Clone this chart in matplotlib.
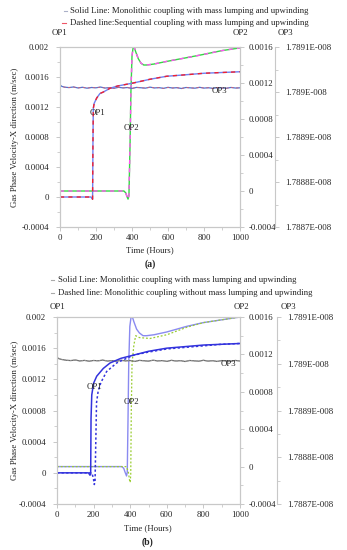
import matplotlib
matplotlib.use("Agg")
import matplotlib.pyplot as plt
from matplotlib.lines import Line2D

plt.rcParams['font.family'] = ['Liberation Serif', 'DejaVu Serif']

W, H = 347, 550

# ---------------- data ----------------
left_ticks = [-0.0004, 0, 0.0004, 0.0008, 0.0012, 0.0016, 0.002]
left_labels = ["-0.0004", "0", "0.0004", "0.0008", "0.0012", "0.0016", "0.002"]
op2_ticks = [-0.0004, 0, 0.0004, 0.0008, 0.0012, 0.0016]
op2_labels = ["-0.0004", "0", "0.0004", "0.0008", "0.0012", "0.0016"]
op3_ticks = [1.7887, 1.7888, 1.7889, 1.7890, 1.7891]          # x 1E-008
op3_labels = ["1.7887E-008", "1.7888E-008", "1.7889E-008", "1.789E-008", "1.7891E-008"]
x_ticks = [0, 200, 400, 600, 800, 1000]
x_labels = ["0", "200", "400", "600", "800", "1000"]

# panel (a)
a_op1_t = [0, 172, 178, 181, 183, 185, 190, 204, 222, 241, 278, 320, 407, 500, 593, 700, 800, 900, 1000]
a_op1_v = [0, 0, -0.00002, -0.00003, 0.0007, 0.00118, 0.00125, 0.00132, 0.00138, 0.0014, 0.00145,
           0.00148, 0.00152, 0.00157, 0.00161, 0.00163, 0.00165, 0.00166, 0.00167]
a_op2_t = [0, 355, 365, 372, 378, 383, 389, 394, 400, 406, 412, 420, 435, 450, 465, 481,
           520, 593, 700, 778, 900, 1000]
a_op2_v = [0, 0, -0.00002, -0.00006, -0.00009, -0.00005, 0.0005, 0.0011, 0.0015, 0.00159, 0.0016,
           0.00155, 0.00147, 0.00142, 0.0014, 0.0014, 0.00141, 0.00144, 0.00148, 0.00151, 0.00156, 0.00159]
op3_t = [0, 2, 10, 25, 50, 75, 100, 125, 150, 175, 200, 225, 250, 275, 300, 325, 350, 375, 400,
         425, 450, 475, 500, 525, 550, 575, 600, 625, 650, 675, 700, 725, 750, 775, 800, 825, 850,
         875, 900, 925, 950, 975, 1000]
a_op3_v = [1.7887667, 1.7890150, 1.7890125, 1.7890108, 1.7890098, 1.7890112, 1.7890090, 1.7890105,
           1.7890085, 1.7890100, 1.7890093, 1.7890110, 1.7890088, 1.7890097, 1.7890082, 1.7890104,
           1.7890091, 1.7890099, 1.7890079, 1.7890102, 1.7890094, 1.7890086, 1.7890108, 1.7890090,
           1.7890097, 1.7890081, 1.7890103, 1.7890089, 1.7890096, 1.7890078, 1.7890100, 1.7890092,
           1.7890085, 1.7890104, 1.7890087, 1.7890095, 1.7890080, 1.7890098, 1.7890090, 1.7890084,
           1.7890101, 1.7890088, 1.7890093]

# panel (b)
b_op1s_t = [0, 172, 180, 184, 186, 190, 200, 217, 253, 290, 350, 417, 500, 600, 700, 800, 900, 1000]
b_op1s_v = [0, 0, -0.00003, -0.00002, 0.0007, 0.001, 0.00115, 0.00124, 0.00134, 0.00141, 0.00147,
            0.00151, 0.00156, 0.0016, 0.00162, 0.00164, 0.00165, 0.00166]
b_op1d_t = [0, 190, 198, 204, 208, 212, 216, 225, 240, 271, 326, 417, 500, 600, 700, 800, 900, 1000]
b_op1d_v = [0, 0, -0.00006, -0.00015, -0.0001, 0.0004, 0.0009, 0.00105, 0.00116, 0.0013, 0.00141,
            0.00151, 0.00155, 0.00159, 0.00161, 0.00163, 0.00165, 0.00166]
b_op2s_t = [0, 355, 365, 372, 380, 384, 388, 392, 398, 404, 412, 420, 435, 450, 470, 490,
            530, 600, 709, 800, 900, 1000]
b_op2s_v = [0, 0, -0.00002, -0.00006, -0.0001, -0.00006, 0.0005, 0.0011, 0.0015, 0.00159, 0.0016,
            0.00155, 0.00147, 0.00143, 0.0014, 0.0014, 0.00141, 0.00144, 0.0015, 0.00154, 0.00157, 0.0016]
b_op2d_t = [0, 380, 390, 396, 400, 403, 406, 410, 420, 430, 450, 508, 600, 709, 800, 900, 1000]
b_op2d_v = [0, 0, -0.00006, -0.00014, -0.00017, -0.00008, 0.0006, 0.0011, 0.0013, 0.0014, 0.00138,
            0.00137, 0.00141, 0.00149, 0.00154, 0.00157, 0.0016]
b_op3_v = [1.7887667, 1.7890130, 1.7890110, 1.7890092, 1.7890075, 1.7890068, 1.7890080, 1.7890060,
           1.7890072, 1.7890055, 1.7890070, 1.7890063, 1.7890078, 1.7890058, 1.7890067, 1.7890052,
           1.7890074, 1.7890061, 1.7890069, 1.7890050, 1.7890072, 1.7890064, 1.7890056, 1.7890076,
           1.7890060, 1.7890067, 1.7890051, 1.7890073, 1.7890059, 1.7890066, 1.7890048, 1.7890070,
           1.7890062, 1.7890055, 1.7890074, 1.7890057, 1.7890065, 1.7890050, 1.7890068, 1.7890060,
           1.7890054, 1.7890071, 1.7890058]

legend_a = ["Solid Line: Monolithic coupling with mass lumping and upwinding",
            "Dashed line:Sequential coupling with mass lumping and upwinding"]
legend_b = ["Solid Line: Monolithic coupling with mass lumping and upwinding",
            "Dashed line: Monolithic coupling without mass lumping and upwinding"]
ylabel = "Gas Phase Velocity-X direction (m/sec)"
xlabel = "Time (Hours)"

# ---------------- drawing ----------------
SPINE = '#c8c8c8'
TXT = '#222222'
FS = 6.3

fig = plt.figure(figsize=(W / 100, H / 100), dpi=100)


def ftext(x, y, s, **kw):
    kw.setdefault('fontsize', FS)
    kw.setdefault('color', TXT)
    fig.text(x / W, 1 - y / H, s, **kw)


def make_axes(l, r, t, b, op3_px):
    ax = fig.add_axes([l / W, 1 - b / H, (r - l) / W, (b - t) / H])
    ax2 = ax.twinx()
    ax3 = ax.twinx()
    ax3.spines['right'].set_position(('axes', (op3_px - l) / (r - l)))
    for a in (ax, ax2, ax3):
        for s in a.spines.values():
            s.set_color(SPINE)
            s.set_linewidth(0.8)
        a.set_xlim(0, 1000)
    ax3.spines['top'].set_visible(False)
    ax3.spines['left'].set_visible(False)
    ax3.spines['bottom'].set_visible(False)
    ax.set_ylim(-0.0004, 0.002)
    ax2.set_ylim(-0.0004, 0.0016)
    ax3.set_ylim(1.7887, 1.7891)
    ax.set_yticks(left_ticks)
    ax.set_yticklabels(left_labels)
    ax.set_yticks([-0.0002, 0.0002, 0.0006, 0.001, 0.0014, 0.0018], minor=True)
    ax2.set_yticks(op2_ticks)
    ax2.set_yticklabels(op2_labels)
    ax2.set_yticks([-0.0002, 0.0002, 0.0006, 0.001, 0.0014], minor=True)
    ax3.set_yticks(op3_ticks)
    ax3.set_yticklabels(op3_labels)
    ax3.set_yticks([1.78875, 1.78885, 1.78895, 1.78905], minor=True)
    ax.set_xticks(x_ticks)
    ax.set_xticklabels(x_labels)
    ax.set_xticks([100, 300, 500, 700, 900], minor=True)
    for a in (ax, ax2, ax3):
        a.tick_params(which='major', direction='out', length=3, width=0.7, color=SPINE,
                      labelsize=FS, labelcolor=TXT, pad=2)
        a.tick_params(which='minor', direction='out', length=2, width=0.6, color=SPINE)
    ax.tick_params(axis='y', pad=5)
    ax2.tick_params(axis='y', pad=3)
    ax3.tick_params(axis='y', pad=4)
    ax.set_zorder(ax3.get_zorder() + 1)
    ax.patch.set_visible(False)
    return ax, ax2, ax3


# ----- panel (a) -----
ax, ax2, ax3 = make_axes(60, 240, 47, 227, 275)
ax3.plot(op3_t, a_op3_v, color='#4f73d0', lw=0.9)
ax3.plot(op3_t, a_op3_v, color='#d86070', lw=0.6, dashes=(3, 3))
ax.plot(a_op1_t, a_op1_v, color='#6f80f0', lw=1.0)
ax.plot(a_op1_t, a_op1_v, color='#f02030', lw=1.0, dashes=(3, 3))
ax2.plot(a_op2_t, a_op2_v, color='#33d844', lw=1.0)
ax2.plot(a_op2_t, a_op2_v, color='#ff55f0', lw=1.0, dashes=(3, 3))

ftext(97, 113, "OP1", ha='center', va='center')
ftext(131, 128, "OP2", ha='center', va='center')
ftext(219, 91, "OP3", ha='center', va='center')
ftext(60, 33, "OP1", ha='center', va='center')
ftext(240, 33, "OP2", ha='center', va='center')
ftext(285, 33, "OP3", ha='center', va='center')
ftext(70, 11, legend_a[0], ha='left', va='center')
ftext(70, 23, legend_a[1], ha='left', va='center')
fig.add_artist(Line2D([64 / W, 67 / W], [1 - 11 / H, 1 - 11 / H], color='#aab0c8', lw=0.8))
fig.add_artist(Line2D([62 / W, 66 / W], [1 - 23 / H, 1 - 23 / H], color='#ee5566', lw=0.8))
ftext(15, 137, ylabel, ha='center', va='center', rotation=90)
ftext(150, 250, xlabel, ha='center', va='center')
ftext(150, 264, "(a)", ha='center', va='center', fontweight='bold', fontsize=7)

# ----- panel (b) -----
bx, bx2, bx3 = make_axes(57, 240, 317, 504, 277)
bx3.plot(op3_t, b_op3_v, color='#6a6a6a', lw=0.9)
bx3.plot(op3_t, b_op3_v, color='#9a9a9a', lw=0.7, dashes=(1.5, 1.5))
bx.plot(b_op1s_t, b_op1s_v, color='#3333dd', lw=1.1)
bx.plot(b_op1d_t, b_op1d_v, color='#3333dd', lw=1.1, dashes=(1.5, 1.5))
bx2.plot(b_op2s_t, b_op2s_v, color='#8a8af0', lw=1.0)
bx2.plot(b_op2d_t, b_op2d_v, color='#9acd32', lw=0.9, dashes=(1.5, 1.5))

ftext(95, 387, "OP1", ha='center', va='center')
ftext(131, 402, "OP2", ha='center', va='center')
ftext(228, 364, "OP3", ha='center', va='center')
ftext(57, 307, "OP1", ha='center', va='center')
ftext(241, 307, "OP2", ha='center', va='center')
ftext(288, 307, "OP3", ha='center', va='center')
ftext(58, 280, legend_b[0], ha='left', va='center')
ftext(58, 293, legend_b[1], ha='left', va='center')
fig.add_artist(Line2D([51 / W, 54 / W], [1 - 280 / H, 1 - 280 / H], color='#aaaaaa', lw=0.8))
fig.add_artist(Line2D([51 / W, 54 / W], [1 - 293 / H, 1 - 293 / H], color='#aaaaaa', lw=0.8))
ftext(15, 410, ylabel, ha='center', va='center', rotation=90)
ftext(148, 528, xlabel, ha='center', va='center')
ftext(148, 542, "(b)", ha='center', va='center', fontweight='bold', fontsize=7)

fig.savefig("out.png", dpi=100, facecolor='white')
